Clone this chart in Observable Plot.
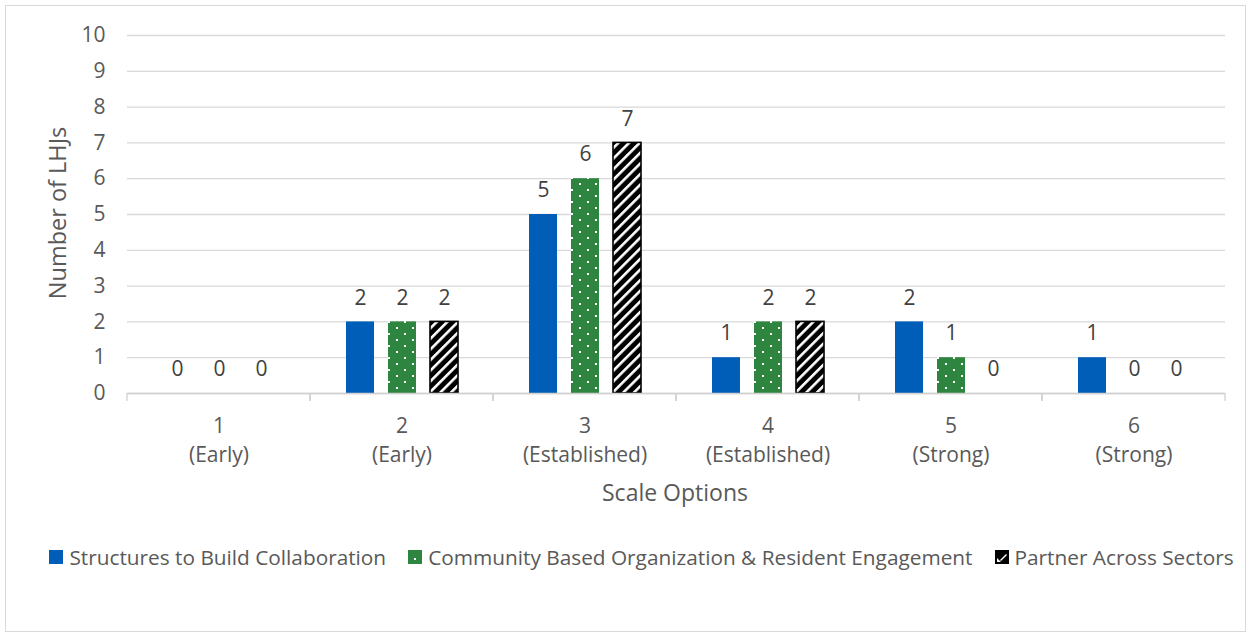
<!DOCTYPE html>
<html><head><meta charset="utf-8">
<script src="https://cdn.jsdelivr.net/npm/d3@7"></script>
<script src="https://cdn.jsdelivr.net/npm/@observablehq/plot@0.6"></script>
<style>
body{margin:0;background:#fff;font-family:"Open Sans",sans-serif;color:#595959;}
#wrap{position:relative;width:1251px;height:637px;overflow:hidden;}
#border{position:absolute;left:5px;top:5px;width:1241px;height:627px;border:1px solid #d9d9d9;box-sizing:border-box;pointer-events:none;}
#chart{position:absolute;left:0;top:0;}
#ytitle{position:absolute;left:57px;top:213px;transform:translate(-50%,-50%) rotate(-90deg);font-size:23.5px;white-space:nowrap;}
#xtitle{position:absolute;left:675px;top:492px;transform:translate(-50%,-50%);font-size:23px;white-space:nowrap;}
#legend{position:absolute;left:0;width:1251px;top:557px;transform:translateY(-50%);display:flex;justify-content:center;gap:22px;font-size:20.8px;padding-left:32px;box-sizing:border-box;}
#legend .item{display:flex;align-items:center;gap:6px;white-space:nowrap;}
#legend svg{display:block;}
</style></head><body>
<div id="wrap"><div id="chart"></div><div id="border"></div>
<div id="ytitle">Number of LHJs</div><div id="xtitle">Scale Options</div><div id="legend"></div></div>
<script>
const scaleNumbers = ["1", "2", "3", "4", "5", "6"];
const scaleLevels = ["(Early)", "(Early)", "(Established)", "(Established)", "(Strong)", "(Strong)"];
const seriesNames = ["Structures to Build Collaboration", "Community Based Organization & Resident Engagement", "Partner Across Sectors"];
const structuresValues = [0, 2, 5, 1, 2, 1];
const communityValues = [0, 2, 6, 2, 1, 0];
const partnerValues = [0, 2, 7, 2, 0, 0];
const yTicks = [0, 1, 2, 3, 4, 5, 6, 7, 8, 9, 10];
const seriesFills = ["#005EB8", "url(#dots)", "url(#stripes)"];

const valueSets = [structuresValues, communityValues, partnerValues];
const rows = scaleNumbers.flatMap((c, i) => seriesNames.map((s, j) => ({category: c, series: s, value: valueSets[j][i]})));

const boundaryTicks = (index, scales, values, dims) => {
  const g = d3.create("svg:g").attr("stroke", "#d0d0d0").attr("stroke-width", 1.3);
  const y0 = scales.y(0);
  for (const x of [dims.marginLeft, dims.width - dims.marginRight]) {
    g.append("line").attr("x1", x).attr("x2", x).attr("y1", y0).attr("y2", y0 + 8);
  }
  return g.node();
};

const chart = Plot.plot({
  width: 1251,
  height: 530,
  marginLeft: 126,
  marginRight: 26,
  marginTop: 35,
  marginBottom: 137,
  style: {fontFamily: "'Open Sans', sans-serif", fontSize: "21px", color: "#595959", background: "transparent"},
  fx: {domain: scaleNumbers, padding: 0, axis: null},
  x: {domain: seriesNames, paddingInner: 1/3, paddingOuter: 0.845, axis: null},
  y: {domain: [0, 10], axis: null},
  color: {domain: seriesNames, range: seriesFills},
  marks: [
    Plot.gridY(yTicks, {stroke: "#d9d9d9", strokeOpacity: 1, strokeWidth: 1.3}),
    Plot.axisY(yTicks, {tickSize: 0, tickPadding: 22, label: null, fontSize: 21, fill: "#595959"}),
    Plot.barY(rows.filter(d => d.value > 0), {fx: "category", x: "series", y: "value", fill: "series"}),
    Plot.barY(rows.filter(d => d.value > 0 && d.series === seriesNames[2]), {fx: "category", x: "series", y: "value", fill: "none", stroke: "#000", strokeWidth: 1.6}),
    Plot.ruleY([0], {stroke: "#d0d0d0", strokeWidth: 1.3}),
    boundaryTicks,
    Plot.text(rows, {fx: "category", x: "series", y: "value", text: d => String(d.value), dy: -24, fontSize: 21, fill: "#404040"}),
    Plot.text(scaleNumbers, {fx: d => d, frameAnchor: "bottom", lineAnchor: "top", dy: 19, lineHeight: 1.38, fontSize: 21, fill: "#595959", text: (d, i) => d + "\n" + scaleLevels[i]})
  ]
});

const svg = d3.select(chart);
const defs = svg.insert("defs", ":first-child");
const dots = defs.append("pattern").attr("id", "dots").attr("patternUnits", "userSpaceOnUse").attr("width", 16).attr("height", 12);
dots.append("rect").attr("width", 16).attr("height", 12).attr("fill", "#2E8540");
dots.append("rect").attr("x", 4).attr("y", 3).attr("width", 2).attr("height", 2).attr("fill", "#fff");
dots.append("rect").attr("x", 12).attr("y", 9).attr("width", 2).attr("height", 2).attr("fill", "#fff");
const stripes = defs.append("pattern").attr("id", "stripes").attr("patternUnits", "userSpaceOnUse").attr("width", 7.5).attr("height", 7.5).attr("patternTransform", "rotate(45)");
stripes.append("rect").attr("width", 7.5).attr("height", 7.5).attr("fill", "#000");
stripes.append("rect").attr("width", 2.6).attr("height", 7.5).attr("fill", "#fff");
document.getElementById("chart").appendChild(chart);

// legend
const legend = d3.select("#legend");
seriesNames.forEach((s, j) => {
  const item = legend.append("div").attr("class", "item");
  const sw = item.append("svg").attr("width", 14).attr("height", 14);
  if (j === 0) sw.append("rect").attr("width", 14).attr("height", 14).attr("fill", seriesFills[0]);
  if (j === 1) {
    sw.append("rect").attr("width", 14).attr("height", 14).attr("fill", "#2E8540");
    sw.append("rect").attr("x", 6).attr("y", 8).attr("width", 2).attr("height", 2).attr("fill", "#fff");
  }
  if (j === 2) {
    sw.append("rect").attr("width", 14).attr("height", 14).attr("fill", "#000");
    sw.append("path").attr("d", "M2,12 L2,8 L6,12 Z M5,10 L11,4 L12,5 L6,11 Z").attr("fill", "#fff");
  }
  item.append("span").text(s);
});
</script>
</body></html>
